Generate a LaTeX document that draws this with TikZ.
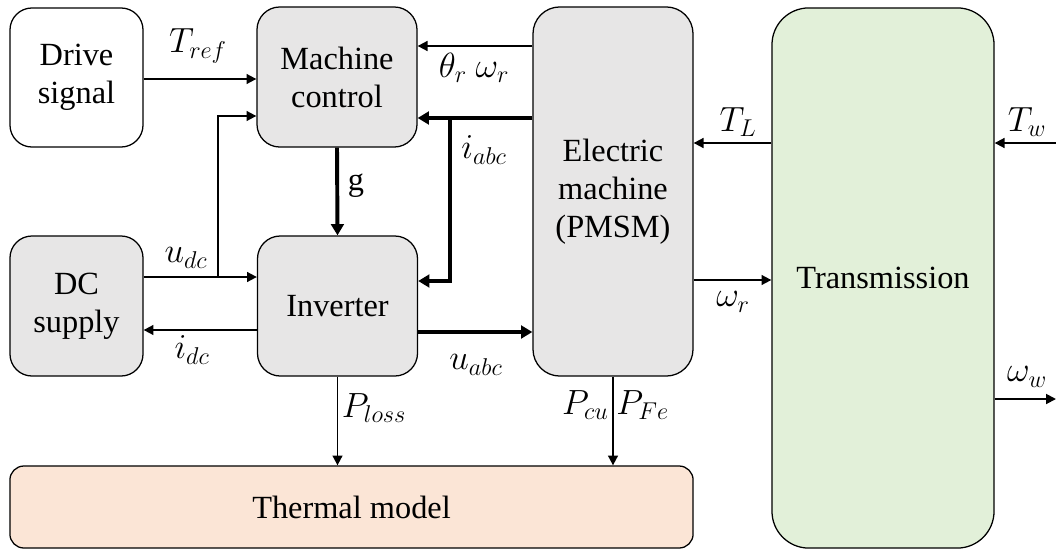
\documentclass[tikz,border=0pt]{standalone}
\usepackage{fontspec}
\setmainfont{Liberation Serif}
\usetikzlibrary{arrows.meta}

\definecolor{boxgray}{HTML}{E7E6E6}
\definecolor{transgreen}{HTML}{E2F0D9}
\definecolor{thermorange}{HTML}{FBE5D6}

\tikzset{
  blk/.style={draw, line width=0.9pt, fill=boxgray, align=center,
    font=\fontsize{23}{27}\selectfont, inner sep=0pt},
  sig/.style={line width=1.3pt, -{Triangle[length=7pt,width=7pt]}},
  bus/.style={line width=2.8pt, line join=miter, -{Triangle[length=8pt,width=9pt]}},
  lbl/.style={font=\fontsize{25}{28}\selectfont, inner sep=0pt},
}

\begin{document}
\begin{tikzpicture}[x=0.025cm, y=-0.025cm]
  \useasboundingbox (0,0) rectangle (1056,552);

  %% Blocks
  \node[blk, fill=white, minimum width=3.325cm, minimum height=3.475cm, rounded corners=0.55cm]
    (drive) at (76.5,77.5) {Drive\\signal};
  \node[blk, minimum width=4.0cm, minimum height=3.5cm, rounded corners=0.57cm]
    (mc) at (337,77) {Machine\\control};
  \node[blk, minimum width=3.325cm, minimum height=3.5cm, rounded corners=0.55cm]
    (dc) at (76.5,306) {DC\\supply};
  \node[blk, minimum width=4.0cm, minimum height=3.5cm, rounded corners=0.57cm]
    (inv) at (337.5,306) {Inverter};
  \node[blk, minimum width=4.0cm, minimum height=9.225cm, rounded corners=0.67cm]
    (pmsm) at (613,191.5) {Electric\\machine\\(PMSM)};
  \node[blk, fill=transgreen, minimum width=5.55cm, minimum height=13.5cm, rounded corners=0.92cm]
    (trans) at (883,278) {Transmission};
  \node[blk, fill=thermorange, minimum width=17.075cm, minimum height=2.05cm, rounded corners=0.35cm]
    (thermal) at (351.5,507) {Thermal model};

  %% Junctions and free ends
  \coordinate (jdc) at (218,277);
  \coordinate (jabc) at (450,118);
  \coordinate (tw) at (1056,143);
  \coordinate (ww) at (1056,399);

  %% Control side
  \draw[sig] (drive.east |- 0,79) -- (mc.west |- 0,79);
  \draw[sig] (dc.east |- jdc) -- (inv.west |- jdc);
  \draw[sig] (jdc) |- (mc.west |- 0,116);
  \draw[sig] (inv.west |- 0,330) -- (dc.east |- 0,330);
  \draw[bus] (mc.south) -- (inv.north);
  \draw[sig] (pmsm.west |- 0,46) -- (mc.east |- 0,46);
  \draw[bus] (pmsm.west |- jabc) -- (mc.east |- jabc);
  \draw[bus] (jabc) |- (inv.east |- 0,281);
  \draw[bus] (inv.east |- 0,332) -- (pmsm.west |- 0,332);

  %% Losses
  \draw[sig] (inv.south) -- (inv.south |- thermal.north);
  \draw[sig] (pmsm.south) -- (pmsm.south |- thermal.north);

  %% Mechanical side
  \draw[sig] (trans.west |- tw) -- (pmsm.east |- tw);
  \draw[sig] (pmsm.east |- 0,280) -- (trans.west |- 0,280);
  \draw[sig] (tw) -- (trans.east |- tw);
  \draw[sig] (trans.east |- ww) -- (ww);

  %% Labels
  \node[lbl] (lTref) at (198,46) {$T_{ref}$};
  \node[lbl] (lth) at (474,68) {$\theta_r\ \omega_r$};
  \node[lbl] (liabc) at (484,150) {$i_{abc}$};
  \node[lbl, font=\fontsize{23}{27}\selectfont] (lg) at (356,186) {g};
  \node[lbl] (ludc) at (186,258) {$u_{dc}$};
  \node[lbl] (lidc) at (192,350) {$i_{dc}$};
  \node[lbl] (luabc) at (476,365) {$u_{abc}$};
  \node[lbl] (lTL) at (738,122) {$T_L$};
  \node[lbl] (lwr) at (733,302) {$\omega_r$};
  \node[lbl] (lTw) at (1027,122) {$T_w$};
  \node[lbl] (lww) at (1027,377) {$\omega_w$};
  \node[lbl] (lloss) at (374,408) {$P_{loss}$};
  \node[lbl, anchor=east] (lcu) at (609,405) {$P_{cu}$};
  \node[lbl, anchor=west] (lfe) at (616,405) {$P_{Fe}$};
\end{tikzpicture}
\end{document}
